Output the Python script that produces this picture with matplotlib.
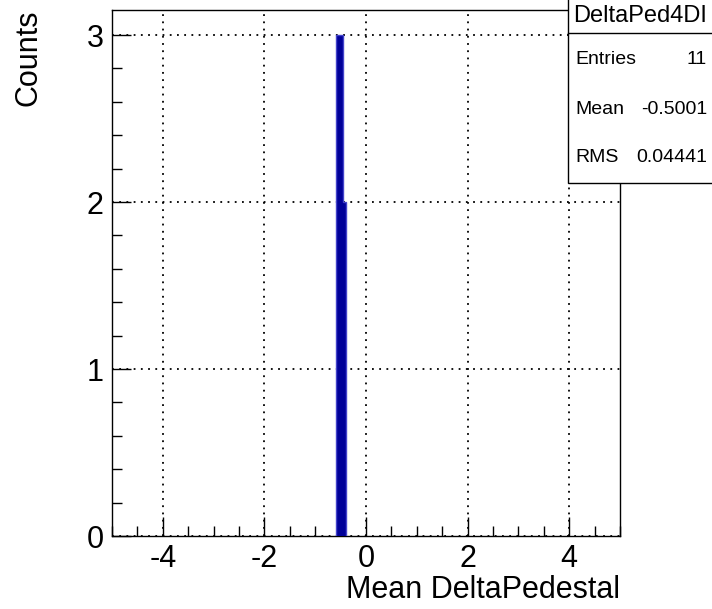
import matplotlib
matplotlib.use("Agg")
import matplotlib.pyplot as plt
from matplotlib.patches import Rectangle
from matplotlib.ticker import MultipleLocator

plt.rcParams['font.family'] = ['Liberation Sans', 'DejaVu Sans']
plt.rcParams['axes.unicode_minus'] = False

# histogram content (200 bins from -5 to 5, only filled bins kept)
bin_edges = [-0.6, -0.55, -0.5, -0.45, -0.4]
counts = [3, 3, 3, 2]

hist_name = "DeltaPed4DI"
stat_labels = ["Entries", "Mean", "RMS"]
stat_values = ["11", "-0.5001", "0.04441"]

fig = plt.figure(figsize=(7.12, 6.09), dpi=100)
ax = fig.add_axes([112 / 712, 73 / 609, 508 / 712, 526 / 609])

ax.stairs(counts, bin_edges, fill=True, color='#000099', zorder=3)
ax.stairs(counts, bin_edges, color='#4444cc', linewidth=1, zorder=4)

ax.set_xlim(-5, 5)
ax.set_ylim(0, 3.15)
ax.xaxis.set_major_locator(MultipleLocator(2))
ax.xaxis.set_minor_locator(MultipleLocator(0.5))
ax.yaxis.set_major_locator(MultipleLocator(1))
ax.yaxis.set_minor_locator(MultipleLocator(0.2))
ax.tick_params(which='both', direction='in', top=False, right=False,
               labelsize=22, width=1, color='black')
ax.tick_params(which='major', length=14, pad=6)
ax.tick_params(which='minor', length=7)
ax.grid(True, which='major', color='black', linestyle=(0, (1, 3)), linewidth=1.3)

for s in ax.spines.values():
    s.set_linewidth(1)

ax.set_xlabel("Mean DeltaPedestal", fontsize=22, ha='right')
ax.xaxis.set_label_coords(1.0, -0.075)
ax.set_ylabel("Counts", fontsize=22, ha='right')
ax.yaxis.set_label_coords(-0.134, 1.0)

# stats box
fig.patches.append(Rectangle((568 / 712, 1 - 183 / 609), 0.3, 0.4,
                             transform=fig.transFigure, facecolor='white',
                             edgecolor='black', linewidth=1, zorder=5))
fig.lines.append(plt.Line2D([568 / 712, 1.0], [1 - 33 / 609, 1 - 33 / 609],
                            transform=fig.transFigure, color='black',
                            linewidth=1, zorder=6))
fig.text(640 / 712, 1 - 16 / 609, hist_name, fontsize=17, ha='center',
         va='center', zorder=7)
for i, (lab, val) in enumerate(zip(stat_labels, stat_values)):
    yy = 1 - (60 + 49 * i) / 609
    fig.text(575 / 712, yy, lab, fontsize=14, ha='left', va='center', zorder=7)
    fig.text(707 / 712, yy, val, fontsize=14, ha='right', va='center', zorder=7)

fig.savefig("out.png", dpi=100)
